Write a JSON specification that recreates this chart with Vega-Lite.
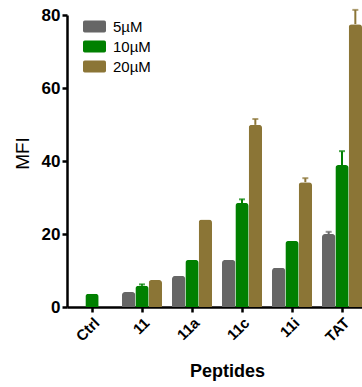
{
  "$schema": "https://vega.github.io/schema/vega-lite/v6.json",
  "autosize": "none",
  "width": 300,
  "height": 292,
  "padding": {"left": 67, "top": 15, "right": 0, "bottom": 80},
  "background": "white",
  "config": {
    "view": {"stroke": null},
    "font": "Liberation Sans",
    "axis": {"grid": false, "domainColor": "black", "domainWidth": 2.5, "tickColor": "black", "tickWidth": 2.5, "tickSize": 5, "labelColor": "black", "titleColor": "black", "labelFont": "Liberation Sans", "titleFont": "Liberation Sans"}
  },
  "data": {"values": [
    {"peptide": "Ctrl", "conc": "10µM", "value": 3.6, "err": 0},
    {"peptide": "11", "conc": "5µM", "value": 4.1, "err": 0},
    {"peptide": "11", "conc": "10µM", "value": 5.8, "err": 0.4},
    {"peptide": "11", "conc": "20µM", "value": 7.4, "err": 0},
    {"peptide": "11a", "conc": "5µM", "value": 8.5, "err": 0},
    {"peptide": "11a", "conc": "10µM", "value": 12.9, "err": 0},
    {"peptide": "11a", "conc": "20µM", "value": 24.0, "err": 0},
    {"peptide": "11c", "conc": "5µM", "value": 12.9, "err": 0},
    {"peptide": "11c", "conc": "10µM", "value": 28.5, "err": 1.0},
    {"peptide": "11c", "conc": "20µM", "value": 49.9, "err": 1.6},
    {"peptide": "11i", "conc": "5µM", "value": 10.7, "err": 0},
    {"peptide": "11i", "conc": "10µM", "value": 18.1, "err": 0},
    {"peptide": "11i", "conc": "20µM", "value": 34.2, "err": 1.1},
    {"peptide": "TAT", "conc": "5µM", "value": 20.0, "err": 0.6},
    {"peptide": "TAT", "conc": "10µM", "value": 38.9, "err": 3.8},
    {"peptide": "TAT", "conc": "20µM", "value": 77.5, "err": 3.9}
  ]},
  "encoding": {
    "x": {"field": "peptide", "type": "nominal", "sort": ["Ctrl", "11", "11a", "11c", "11i", "TAT"],
      "scale": {"paddingInner": 0.2, "paddingOuter": 0.1},
      "axis": {"title": "Peptides", "titleFontSize": 18, "titleFontWeight": "bold", "titleX": 160, "titleY": 64, "titleBaseline": "middle",
        "labelAngle": -45, "labelFontSize": 15, "labelFontWeight": "bold", "labelPadding": 3}},
    "xOffset": {"field": "conc", "type": "nominal", "sort": ["5µM", "10µM", "20µM"]}
  },
  "layer": [
    {
      "mark": {"type": "bar", "cornerRadiusTopLeft": 3, "cornerRadiusTopRight": 3},
      "encoding": {
        "y": {"field": "value", "type": "quantitative", "scale": {"domain": [0, 80]},
          "axis": {"title": "MFI", "values": [0, 20, 40, 60, 80], "labelFontSize": 17, "labelFontWeight": "bold", "labelPadding": 2,
            "titleFontSize": 19, "titleFontWeight": "normal", "titleX": -45, "titleY": 138, "titleAlign": "center", "titleBaseline": "middle"}},
        "color": {"field": "conc", "type": "nominal", "sort": ["5µM", "10µM", "20µM"],
          "scale": {"domain": ["5µM", "10µM", "20µM"], "range": ["#666666", "#008000", "#8b7536"]},
          "legend": {"title": null, "orient": "none", "legendX": 16, "legendY": 0, "symbolType": "M -0.85 -0.52 H 0.85 Q 1 -0.52 1 -0.37 V 0.37 Q 1 0.52 0.85 0.52 H -0.85 Q -1 0.52 -1 0.37 V -0.37 Q -1 -0.52 -0.85 -0.52 Z", "symbolSize": 529, "symbolOpacity": 1, "symbolStrokeWidth": 0, "labelFontSize": 15, "labelOffset": 7, "rowPadding": -1, "labelColor": "black"}}
      }
    },
    {
      "transform": [{"filter": "datum.err > 0"}, {"calculate": "datum.value + datum.err", "as": "hi"}],
      "mark": {"type": "rule", "strokeWidth": 2},
      "encoding": {
        "y": {"field": "value", "type": "quantitative"},
        "y2": {"field": "hi"},
        "color": {"field": "conc", "type": "nominal", "legend": null}
      }
    },
    {
      "transform": [{"filter": "datum.err > 0"}, {"calculate": "datum.value + datum.err", "as": "hi"}],
      "mark": {"type": "tick", "thickness": 2, "size": 6, "orient": "horizontal"},
      "encoding": {
        "y": {"field": "hi", "type": "quantitative"},
        "color": {"field": "conc", "type": "nominal", "legend": null}
      }
    }
  ]
}
